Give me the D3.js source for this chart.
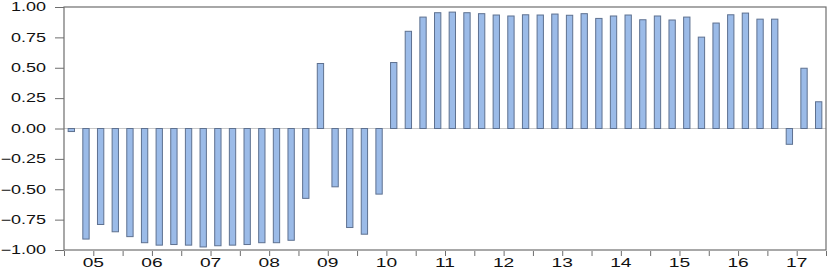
<!DOCTYPE html>
<html lang="en">
<head>
    <meta charset="UTF-8">
    <title>Quarterly bars</title>
    <script src="https://d3js.org/d3.v7.min.js"></script>
    <style>
        body { margin: 0; background: #fff; }
        text {
            font-family: Arial, 'Liberation Sans', sans-serif;
            font-size: 12px;
            fill: #111;
        }
    </style>
</head>
<body>
<script>
    const width  = 829;
    const height = 270;

    // year labels under the x axis
    const years = ["05","06","07","08","09","10","11","12","13","14","15","16","17"];

    // one value per quarter, 2005Q1 .. 2017Q4
    const values = [
        -0.025, -0.91, -0.79, -0.85, -0.89, -0.94, -0.96, -0.955,
        -0.96, -0.975, -0.965, -0.96, -0.955, -0.94, -0.94, -0.92,
        -0.575, 0.535, -0.48, -0.815, -0.87, -0.54, 0.543, 0.80,
        0.917, 0.953, 0.958, 0.953, 0.945, 0.934, 0.926, 0.936,
        0.934, 0.942, 0.932, 0.945, 0.906, 0.926, 0.934, 0.895,
        0.926, 0.893, 0.917, 0.752, 0.868, 0.936, 0.95, 0.90,
        0.90, -0.13, 0.496, 0.22
    ];

    const yTicks = [-1, -0.75, -0.5, -0.25, 0, 0.25, 0.5, 0.75, 1];

    const quarters = [];
    years.forEach(y => [1,2,3,4].forEach(q => quarters.push(y + "Q" + q)));

    const margin = {top: 7, right: 3, bottom: 20, left: 64};
    const innerW = width - margin.left - margin.right;
    const innerH = height - margin.top - margin.bottom;

    const svg = d3.select("body").append("svg")
        .attr("width", width).attr("height", height);
    const g = svg.append("g")
        .attr("transform", `translate(${margin.left},${margin.top})`);

    const x = d3.scaleBand()
        .domain(quarters)
        .range([0, innerW])
        .paddingInner(0.5)
        .paddingOuter(0.25);

    // quarter index scale, for ticks and year labels
    const xi = d3.scaleLinear().domain([0, quarters.length]).range([0, innerW]);

    const y = d3.scaleLinear().domain([-1, 1]).range([innerH, 0]);

    // zero line
    g.append("line")
        .attr("x1", 0).attr("x2", innerW)
        .attr("y1", y(0)).attr("y2", y(0))
        .attr("stroke", "#c8c8c8").attr("stroke-width", 1);

    // bars
    g.selectAll("rect.bar")
        .data(values)
        .join("rect")
        .attr("class", "bar")
        .attr("x", (d, i) => x(quarters[i]) + 0.5)
        .attr("width", x.bandwidth() - 1)
        .attr("y", d => y(Math.max(0, d)))
        .attr("height", d => Math.abs(y(d) - y(0)))
        .attr("fill", "#9bbbe8")
        .attr("stroke", "#5e7190")
        .attr("stroke-width", 1);

    // frame
    g.append("rect")
        .attr("x", 0).attr("y", 0)
        .attr("width", innerW).attr("height", innerH)
        .attr("fill", "none")
        .attr("stroke", "#6e6e6e").attr("stroke-width", 1.2);

    // y axis
    const yAxis = g.append("g")
        .call(d3.axisLeft(y).tickValues(yTicks).tickFormat(d3.format(".2f")).tickSize(9).tickPadding(9));
    yAxis.select(".domain").remove();
    yAxis.selectAll("line").attr("stroke", "#6e6e6e");
    yAxis.selectAll("text")
        .attr("x", 0)
        .attr("transform", "translate(-18,0) scale(1.5,1)")
        .style("font-size", "12px");

    // x axis: ticks every half year
    const xAxis = g.append("g")
        .attr("transform", `translate(0,${innerH + 1})`)
        .call(d3.axisBottom(xi).tickValues(d3.range(0, quarters.length + 1, 2)).tickFormat("").tickSize(5));
    xAxis.select(".domain").remove();
    xAxis.selectAll("line").attr("stroke", "#6e6e6e");

    g.append("g")
        .selectAll("text")
        .data(years)
        .join("text")
        .attr("text-anchor", "middle")
        .attr("transform", (d, i) => `translate(${xi(i * 4 + 2)},${innerH + 17}) scale(1.6,1)`)
        .text(d => d);
</script>
</body>
</html>
